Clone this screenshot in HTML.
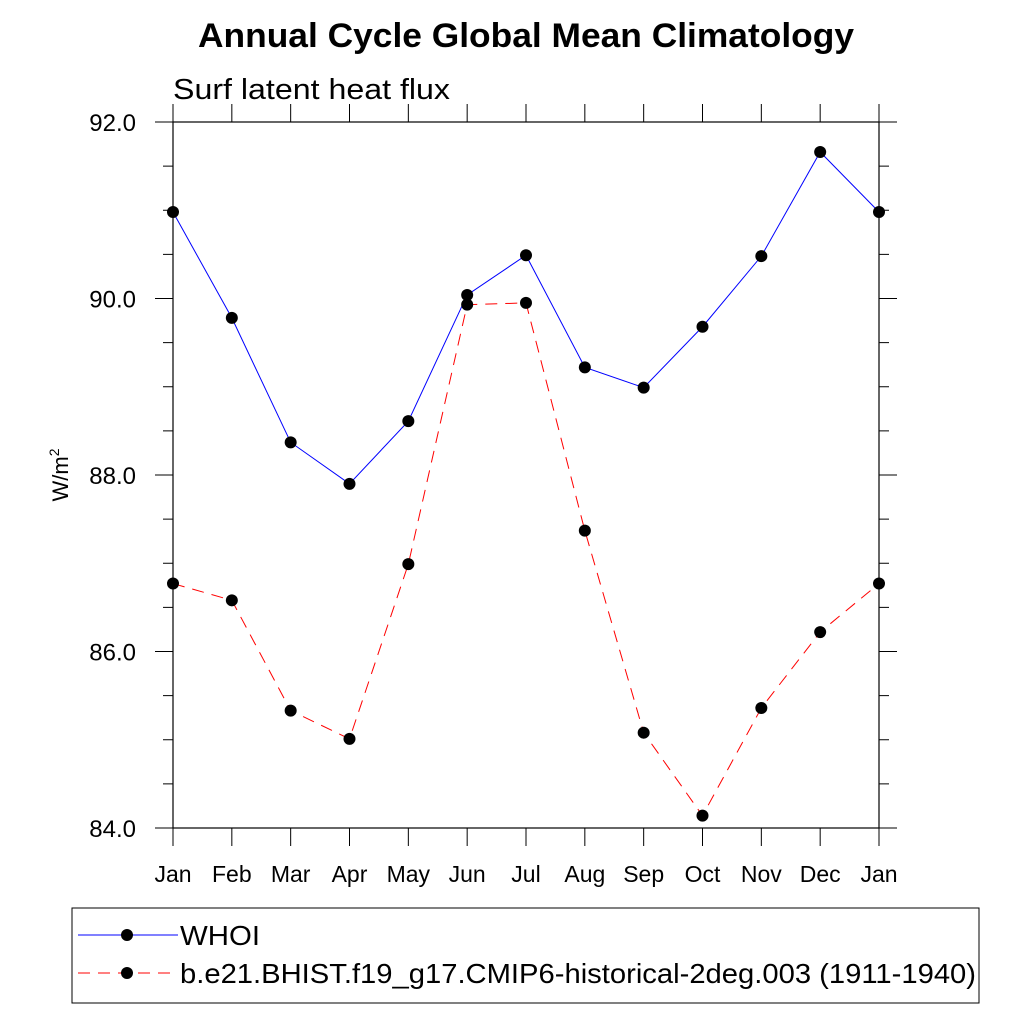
<!DOCTYPE html>
<html><head><meta charset="utf-8"><style>
html,body{margin:0;padding:0;background:#fff;}
svg{display:block;font-family:"Liberation Sans",sans-serif;}
</style></head><body>
<svg id="chart" width="1024" height="1024" viewBox="0 0 1024 1024">
<text x="198" y="47" font-size="34" font-weight="bold" textLength="656" lengthAdjust="spacingAndGlyphs">Annual Cycle Global Mean Climatology</text>
<text x="173" y="99" font-size="29" textLength="277" lengthAdjust="spacingAndGlyphs">Surf latent heat flux</text>
<text transform="translate(68,475) rotate(-90)" text-anchor="middle" font-size="22">W/m<tspan font-size="14" dy="-9">2</tspan></text>
<g id="axes"></g>
<g id="series"></g>
<g>
<rect x="72" y="908" width="907" height="95" fill="none" stroke="#000" stroke-width="1"/>
<g>
<line x1="78" y1="935" x2="178" y2="935" stroke="#0000ff" stroke-width="1"/>
<circle cx="127" cy="935" r="6" fill="#000"/>
<text x="180" y="945" font-size="28" textLength="80" lengthAdjust="spacingAndGlyphs">WHOI</text>
</g>
<g>
<line x1="78" y1="973" x2="178" y2="973" stroke="#ff0000" stroke-width="1" stroke-dasharray="12,8"/>
<circle cx="127" cy="973" r="6" fill="#000"/>
<text x="180" y="983" font-size="28" textLength="796" lengthAdjust="spacingAndGlyphs">b.e21.BHIST.f19_g17.CMIP6-historical-2deg.003 (1911-1940)</text>
</g>
</g>
</svg>
<script>
const months = ["Jan","Feb","Mar","Apr","May","Jun","Jul","Aug","Sep","Oct","Nov","Dec","Jan"];
const whoi = [90.98,89.78,88.37,87.90,88.61,90.04,90.49,89.22,88.99,89.68,90.48,91.66,90.98];
const model = [86.77,86.58,85.33,85.01,86.99,89.93,89.95,87.37,85.08,84.14,85.36,86.22,86.77];
const yTicks = [84,86,88,90,92];
const yTickLabels = ["84.0","86.0","88.0","90.0","92.0"];
const NS="http://www.w3.org/2000/svg";
const L=173,R=879,T=122,B=828,ymin=84,ymax=92;
const xs=i=>L+(R-L)*i/(months.length-1);
const ys=v=>B-(v-ymin)/(ymax-ymin)*(B-T);
function mk(tag,attrs,parent){const e=document.createElementNS(NS,tag);for(const k in attrs)e.setAttribute(k,attrs[k]);parent.appendChild(e);return e;}
const ax=document.getElementById('axes');
const frame=mk('rect',{x:L,y:T,width:R-L,height:B-T,fill:'none',stroke:'#000','stroke-width':1.2},ax);


for(let v=ymin;v<=ymax+1e-9;v+=0.5){
  const y=ys(v);const major=Math.abs(v/2-Math.round(v/2))<1e-9;const len=major?18:10;
  const t1=mk('line',{x1:L,y1:y,x2:L-len,y2:y,stroke:'#000'},ax);
  
  
  const t2=mk('line',{x1:R,y1:y,x2:R+len,y2:y,stroke:'#000'},ax);
  
  
}
yTicks.forEach((v,i)=>{
  const t=mk('text',{x:136,y:ys(v)+9,'text-anchor':'end','font-size':24},ax);t.textContent=yTickLabels[i];
  
  
});
months.forEach((m,i)=>{
  const x=xs(i);
  const a=mk('line',{x1:x,y1:B,x2:x,y2:B+18,stroke:'#000'},ax);
  
  
  const b=mk('line',{x1:x,y1:T,x2:x,y2:T-18,stroke:'#000'},ax);
  
  
  const t=mk('text',{x:x,y:882,'text-anchor':'middle','font-size':23},ax);t.textContent=m;
  
  
});
const sg=document.getElementById('series');
function drawSeries(vals,color,dash,name){
  const pts=vals.map((v,i)=>xs(i)+','+ys(v)).join(' ');
  const attrs={points:pts,fill:'none',stroke:color,'stroke-width':1};
  if(dash)attrs['stroke-dasharray']=dash;
  const pl=mk('polyline',attrs,sg);
  
  
  vals.forEach((v,i)=>{
    const c=mk('circle',{cx:xs(i),cy:ys(v),r:6,fill:'#000'},sg);
    
    
  });
}
drawSeries(whoi,'#0000ff',null,'whoi');
drawSeries(model,'#ff0000','12,8','model');
</script>
</body></html>
